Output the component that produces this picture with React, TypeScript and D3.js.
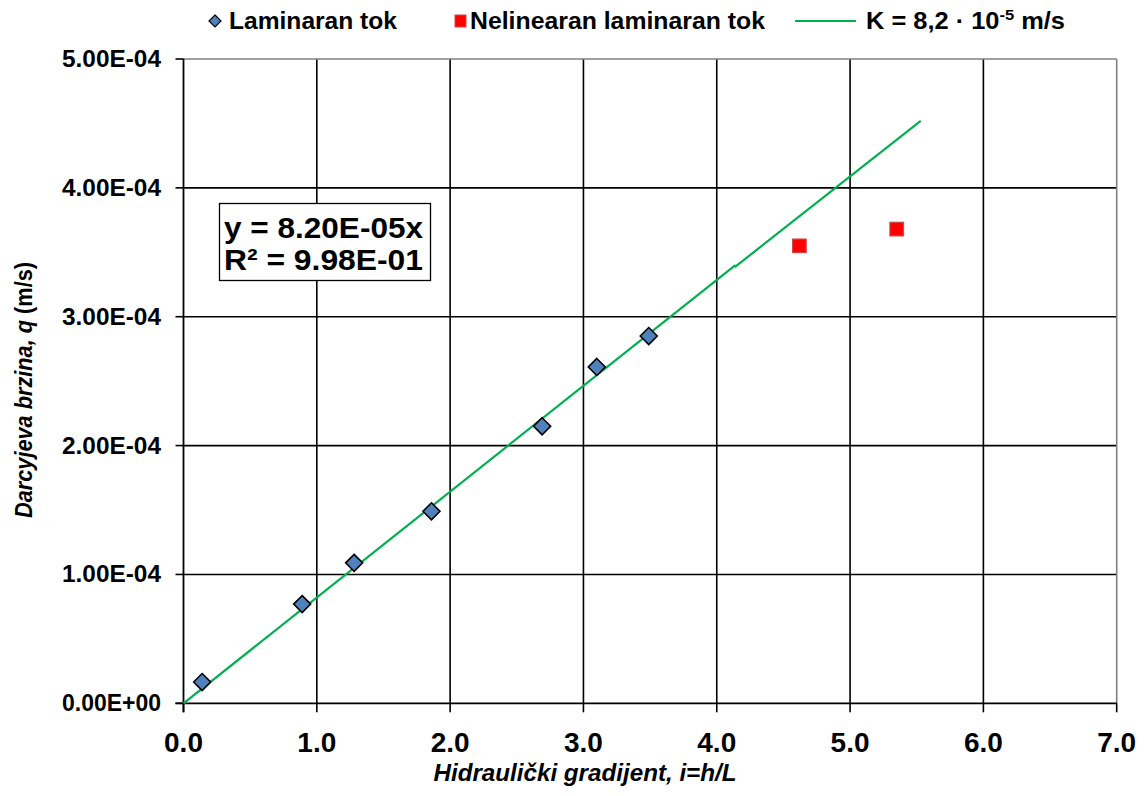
import React from "react";
import * as d3 from "d3";

// ---- Data ----
const laminarX = [0.14, 0.89, 1.28, 1.86, 2.69, 3.1, 3.49];
const laminarY = [1.65e-5, 7.7e-5, 1.09e-4, 1.49e-4, 2.15e-4, 2.61e-4, 2.85e-4];
const nonlinearX = [4.62, 5.35];
const nonlinearY = [3.55e-4, 3.68e-4];
// fitted line K = 8.2e-5 (drawn as two segments like the original)
const trendSeg1 = [
  [0, 0],
  [4.14, 3.4e-4],
];
const trendSeg2 = [
  [4.135, 3.385e-4],
  [5.53, 4.52e-4],
];
const xTicks = [0, 1, 2, 3, 4, 5, 6, 7];
const yTicks = [0, 1e-4, 2e-4, 3e-4, 4e-4, 5e-4];
const xTickLabels = ["0.0", "1.0", "2.0", "3.0", "4.0", "5.0", "6.0", "7.0"];
const yTickLabels = ["0.00E+00", "1.00E-04", "2.00E-04", "3.00E-04", "4.00E-04", "5.00E-04"];

const W = 1147;
const H = 796;
const FONT = "'Liberation Sans', Arial, Helvetica, sans-serif";

export default function App() {
  const x = d3.scaleLinear().domain([0, 7]).range([183.5, 1116.7]);
  const y = d3.scaleLinear().domain([0, 5e-4]).range([703.3, 59]);
  const line = d3
    .line<number[]>()
    .x((d) => x(d[0]))
    .y((d) => y(d[1]));

  const [x0, x1] = x.range();
  const [y0, y1] = y.range();
  const diamond = (cx: number, cy: number, r: number) =>
    `M${cx},${cy - r}L${cx + r},${cy}L${cx},${cy + r}L${cx - r},${cy}Z`;

  return (
    <svg
      width={W}
      height={H}
      style={{ position: "absolute", left: 0, top: 0, background: "#fff" }}
      fontFamily={FONT}
    >
      <rect x={0} y={0} width={W} height={H} fill="#fff" />
      {/* grid lines */}
      {xTicks.slice(1, -1).map((t) => (
        <line key={"gx" + t} x1={x(t)} x2={x(t)} y1={y0} y2={y1} stroke="#000" strokeWidth={1.6} />
      ))}
      {yTicks.slice(1, -1).map((t) => (
        <line key={"gy" + t} x1={x0} x2={x1} y1={y(t)} y2={y(t)} stroke="#000" strokeWidth={1.6} />
      ))}
      {/* plot border top/right */}
      <line x1={x0} x2={x1} y1={y1} y2={y1} stroke="#808080" strokeWidth={1.6} />
      <line x1={x1} x2={x1} y1={y1} y2={y0} stroke="#808080" strokeWidth={1.6} />
      {/* axes */}
      <line x1={x0} x2={x0} y1={y1} y2={y0 + 9} stroke="#000" strokeWidth={1.8} />
      <line x1={x0 - 8} x2={x1} y1={y0} y2={y0} stroke="#000" strokeWidth={1.8} />
      {yTicks.map((t) => (
        <line key={"ty" + t} x1={x0 - 8} x2={x0} y1={y(t)} y2={y(t)} stroke="#000" strokeWidth={1.6} />
      ))}
      {xTicks.map((t) => (
        <line key={"tx" + t} x1={x(t)} x2={x(t)} y1={y0} y2={y0 + 9} stroke="#000" strokeWidth={1.6} />
      ))}
      {/* tick labels */}
      {yTicks.map((t, i) => (
        <text
          key={"ly" + t}
          x={161}
          y={y(t) + 8}
          textAnchor="end"
          fontSize={24}
          fontWeight="bold"
          fill="#000"
          textLength={99}
          lengthAdjust="spacingAndGlyphs"
        >
          {yTickLabels[i]}
        </text>
      ))}
      {xTicks.map((t, i) => (
        <text
          key={"lx" + t}
          x={x(t)}
          y={752}
          textAnchor="middle"
          fontSize={28}
          fontWeight="bold"
          fill="#000"
        >
          {xTickLabels[i]}
        </text>
      ))}
      {/* axis titles */}
      <text
        x={585}
        y={781}
        textAnchor="middle"
        fontSize={23}
        fontWeight="bold"
        fontStyle="italic"
        textLength={303}
        lengthAdjust="spacingAndGlyphs"
      >
        Hidraulički gradijent, i=h/L
      </text>
      <text
        transform="translate(32,390) rotate(-90)"
        textAnchor="middle"
        fontSize={23}
        fontWeight="bold"
        textLength={256}
        lengthAdjust="spacingAndGlyphs"
      >
        <tspan fontStyle="italic">Darcyjeva brzina, q</tspan>
        <tspan> (m/s)</tspan>
      </text>
      {/* trend line */}
      <path d={line(trendSeg1) || ""} fill="none" stroke="#00B050" strokeWidth={2.2} />
      <path d={line(trendSeg2) || ""} fill="none" stroke="#00B050" strokeWidth={2.2} />
      {/* laminar points */}
      {laminarX.map((v, i) => (
        <path
          key={"d" + i}
          d={diamond(x(v), y(laminarY[i]), 8.5)}
          fill="#4F81BD"
          stroke="#000"
          strokeWidth={1.6}
        />
      ))}
      {/* nonlinear points */}
      {nonlinearX.map((v, i) => (
        <rect
          key={"s" + i}
          x={x(v) - 6.8}
          y={y(nonlinearY[i]) - 6.8}
          width={13.6}
          height={13.6}
          fill="#FF0000"
          stroke="#D04848"
          strokeWidth={1.2}
        />
      ))}
      {/* equation box */}
      <rect x={219.5} y={203.5} width={211} height={77} fill="#fff" stroke="#000" strokeWidth={1.3} />
      <text x={224} y={238} fontSize={30} fontWeight="bold" textLength={199} lengthAdjust="spacingAndGlyphs">
        y = 8.20E-05x
      </text>
      <text x={224} y={270} fontSize={30} fontWeight="bold" textLength={199} lengthAdjust="spacingAndGlyphs">
        R² = 9.98E-01
      </text>
      {/* legend */}
      <path d={diamond(215, 21, 6)} fill="#4F81BD" stroke="#000" strokeWidth={1.2} />
      <text x={229} y={29} fontSize={23} fontWeight="bold" textLength={168} lengthAdjust="spacingAndGlyphs">
        Laminaran tok
      </text>
      <rect x={455} y={15} width={11} height={12} fill="#FF0000" stroke="#D04848" strokeWidth={1} />
      <text x={470} y={29} fontSize={23} fontWeight="bold" textLength={295} lengthAdjust="spacingAndGlyphs">
        Nelinearan laminaran tok
      </text>
      <line x1={795} x2={856} y1={21} y2={21} stroke="#00B050" strokeWidth={2.2} />
      <text x={866} y={29} fontSize={23} fontWeight="bold" textLength={199} lengthAdjust="spacingAndGlyphs">
        K = 8,2 · 10
        <tspan fontSize={15} dy={-9}>-5</tspan>
        <tspan dy={9}> m/s</tspan>
      </text>
    </svg>
  );
}
